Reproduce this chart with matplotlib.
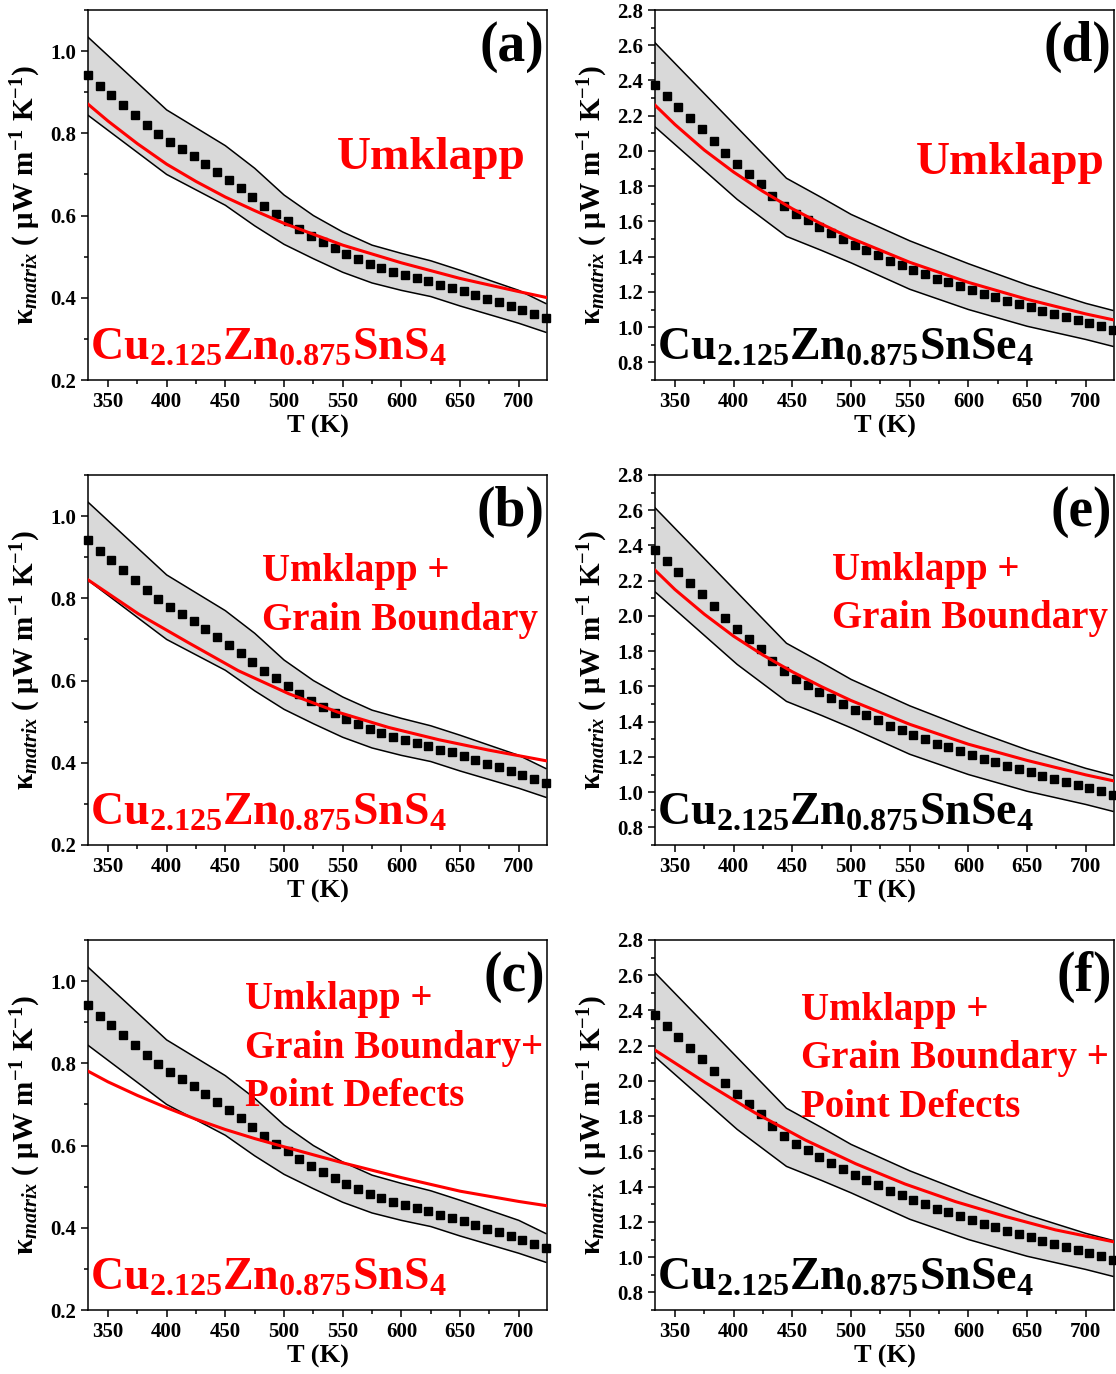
import matplotlib
matplotlib.use('Agg')
from matplotlib import pyplot as plt
from matplotlib.ticker import MultipleLocator

plt.rcParams['font.family'] = ['Liberation Serif', 'DejaVu Serif']
plt.rcParams['font.weight'] = 'bold'
plt.rcParams['mathtext.fontset'] = 'custom'
plt.rcParams['mathtext.rm'] = 'Liberation Serif:bold'
plt.rcParams['mathtext.bf'] = 'Liberation Serif:bold'
plt.rcParams['mathtext.it'] = 'Liberation Serif:bold:italic'

# measured kappa_matrix, every 10 K
T = [333, 343, 353, 363, 373, 383, 393, 403, 413, 423,
     433, 443, 453, 463, 473, 483, 493, 503, 513, 523,
     533, 543, 553, 563, 573, 583, 593, 603, 613, 623,
     633, 643, 653, 663, 673, 683, 693, 703, 713, 723]
k_S = [0.941, 0.916, 0.893, 0.869, 0.845, 0.820, 0.799, 0.778, 0.761, 0.744,
       0.725, 0.706, 0.687, 0.666, 0.644, 0.623, 0.605, 0.587, 0.567, 0.551,
       0.535, 0.520, 0.506, 0.495, 0.482, 0.473, 0.463, 0.456, 0.449, 0.440,
       0.432, 0.425, 0.416, 0.407, 0.398, 0.389, 0.380, 0.371, 0.361, 0.351]
k_Se = [2.377, 2.313, 2.250, 2.188, 2.123, 2.057, 1.990, 1.924, 1.867, 1.810,
        1.746, 1.685, 1.644, 1.606, 1.568, 1.536, 1.501, 1.469, 1.437, 1.407,
        1.378, 1.350, 1.325, 1.299, 1.276, 1.255, 1.232, 1.211, 1.189, 1.170,
        1.151, 1.132, 1.113, 1.094, 1.076, 1.058, 1.041, 1.022, 1.005, 0.986]

# error band edges
T_band = [333, 400, 450, 475, 500, 525, 550, 575, 600, 625, 650, 700, 723]
bS_up = [1.034, 0.857, 0.770, 0.715, 0.650, 0.600, 0.560, 0.528, 0.508, 0.490, 0.467, 0.418, 0.386]
bS_lo = [0.844, 0.700, 0.625, 0.575, 0.530, 0.495, 0.462, 0.436, 0.418, 0.403, 0.380, 0.338, 0.316]

T_bSe_up = [333, 445, 475, 500, 550, 600, 650, 700, 723]
bSe_up = [2.614, 1.845, 1.735, 1.640, 1.490, 1.360, 1.240, 1.135, 1.095]
T_bSe_lo = [333, 403, 445, 475, 500, 550, 600, 650, 700, 723]
bSe_lo = [2.137, 1.725, 1.515, 1.435, 1.365, 1.215, 1.100, 1.005, 0.930, 0.891]

# model curves
T_fit = [333, 350, 375, 400, 425, 450, 475, 500, 550, 600, 650, 700, 723]
fit_a = [0.871, 0.830, 0.775, 0.725, 0.683, 0.645, 0.612, 0.581, 0.528, 0.485, 0.447, 0.415, 0.401]
fit_c = [0.781, 0.755, 0.722, 0.692, 0.664, 0.639, 0.617, 0.597, 0.558, 0.522, 0.489, 0.464, 0.454]
fit_d = [2.260, 2.150, 2.005, 1.880, 1.770, 1.672, 1.585, 1.505, 1.368, 1.254, 1.158, 1.075, 1.042]
fit_e = [2.260, 2.150, 2.010, 1.885, 1.778, 1.683, 1.598, 1.520, 1.385, 1.272, 1.180, 1.098, 1.065]

T_fit2 = [333, 376, 418, 461, 504, 546, 589, 632, 674, 723]
fit_b = [0.845, 0.762, 0.693, 0.624, 0.568, 0.523, 0.486, 0.456, 0.431, 0.405]
fit_f = [2.175, 1.990, 1.820, 1.665, 1.530, 1.415, 1.315, 1.230, 1.155, 1.088]

fig = plt.figure(figsize=(11.16, 13.74), dpi=100)

W, H = 1116, 1374
lefts = [88, 655]
tops = [10, 475, 940]


def make_axes(col, row):
    l = lefts[col]
    t = tops[row]
    return fig.add_axes([l / W, 1 - (t + 370) / H, 459 / W, 370 / H])


def panel(ax, tag, fit_T, fit_k, sel, lines, note_x, note_y, note_size):
    if sel == 'S':
        ax.fill(T_band + T_band[::-1], bS_up + bS_lo[::-1],
                color='#d9d9d9', lw=0, zorder=1)
        ax.plot(T_band, bS_up, color='black', lw=1.1, zorder=2)
        ax.plot(T_band, bS_lo, color='black', lw=1.1, zorder=2)
        ax.plot(T, k_S, 's', color='black', ms=5.5, zorder=3, clip_on=False)
        ax.set_ylim(0.2, 1.1)
        comp = 'Cu$_{2.125}$Zn$_{0.875}$SnS$_4$'
        ccol = 'red'
    else:
        ax.fill(T_bSe_up + T_bSe_lo[::-1], bSe_up + bSe_lo[::-1],
                color='#d9d9d9', lw=0, zorder=1)
        ax.plot(T_bSe_up, bSe_up, color='black', lw=1.1, zorder=2)
        ax.plot(T_bSe_lo, bSe_lo, color='black', lw=1.1, zorder=2)
        ax.plot(T, k_Se, 's', color='black', ms=5.5, zorder=3, clip_on=False)
        ax.set_ylim(0.7, 2.8)
        comp = 'Cu$_{2.125}$Zn$_{0.875}$SnSe$_4$'
        ccol = 'black'
    ax.yaxis.set_major_locator(MultipleLocator(0.2))
    ax.yaxis.set_minor_locator(MultipleLocator(0.1))

    ax.plot(fit_T, fit_k, color='red', lw=2.2, zorder=4)

    ax.set_xlim(333, 724)
    ax.xaxis.set_major_locator(MultipleLocator(50))
    ax.xaxis.set_minor_locator(MultipleLocator(25))
    ax.tick_params(which='both', direction='out', top=False, right=False,
                   labelsize=15, width=1.1)
    ax.tick_params(which='major', length=5)
    ax.tick_params(which='minor', length=3)
    for lab in ax.get_xticklabels() + ax.get_yticklabels():
        lab.set_fontweight('bold')
    for s in ax.spines.values():
        s.set_linewidth(1.1)

    ax.set_xlabel('T (K)', fontsize=19, fontweight='bold', labelpad=2)
    ax.set_ylabel('κ$_{matrix}$ ( μW m$^{-1}$ K$^{-1}$)', fontsize=21,
                  fontweight='bold', labelpad=5)

    ax.text(0.995, 0.9, tag, transform=ax.transAxes, ha='right', va='center',
            fontsize=40, fontweight='bold')
    ax.text(0.005, 0.055, comp, transform=ax.transAxes, ha='left',
            va='baseline', fontsize=33, fontweight='bold', color=ccol)
    for i, line in enumerate(lines):
        ax.text(note_x, note_y - i * 0.131, line, transform=ax.transAxes,
                ha='left', va='center', fontsize=note_size,
                fontweight='bold', color='red')


ax = make_axes(0, 0)
panel(ax, '(a)', T_fit, fit_a, 'S', ['Umklapp'], 0.543, 0.60, 34)
ax = make_axes(0, 1)
panel(ax, '(b)', T_fit2, fit_b, 'S', ['Umklapp +', 'Grain Boundary'], 0.378, 0.738, 28)
ax = make_axes(0, 2)
panel(ax, '(c)', T_fit, fit_c, 'S', ['Umklapp +', 'Grain Boundary+', 'Point Defects'], 0.342, 0.838, 28)
ax = make_axes(1, 0)
panel(ax, '(d)', T_fit, fit_d, 'Se', ['Umklapp'], 0.568, 0.586, 34)
ax = make_axes(1, 1)
panel(ax, '(e)', T_fit, fit_e, 'Se', ['Umklapp +', 'Grain Boundary'], 0.385, 0.743, 28)
ax = make_axes(1, 2)
panel(ax, '(f)', T_fit2, fit_f, 'Se', ['Umklapp +', 'Grain Boundary +', 'Point Defects'], 0.318, 0.81, 28)

fig.savefig('out.png', dpi=100)
